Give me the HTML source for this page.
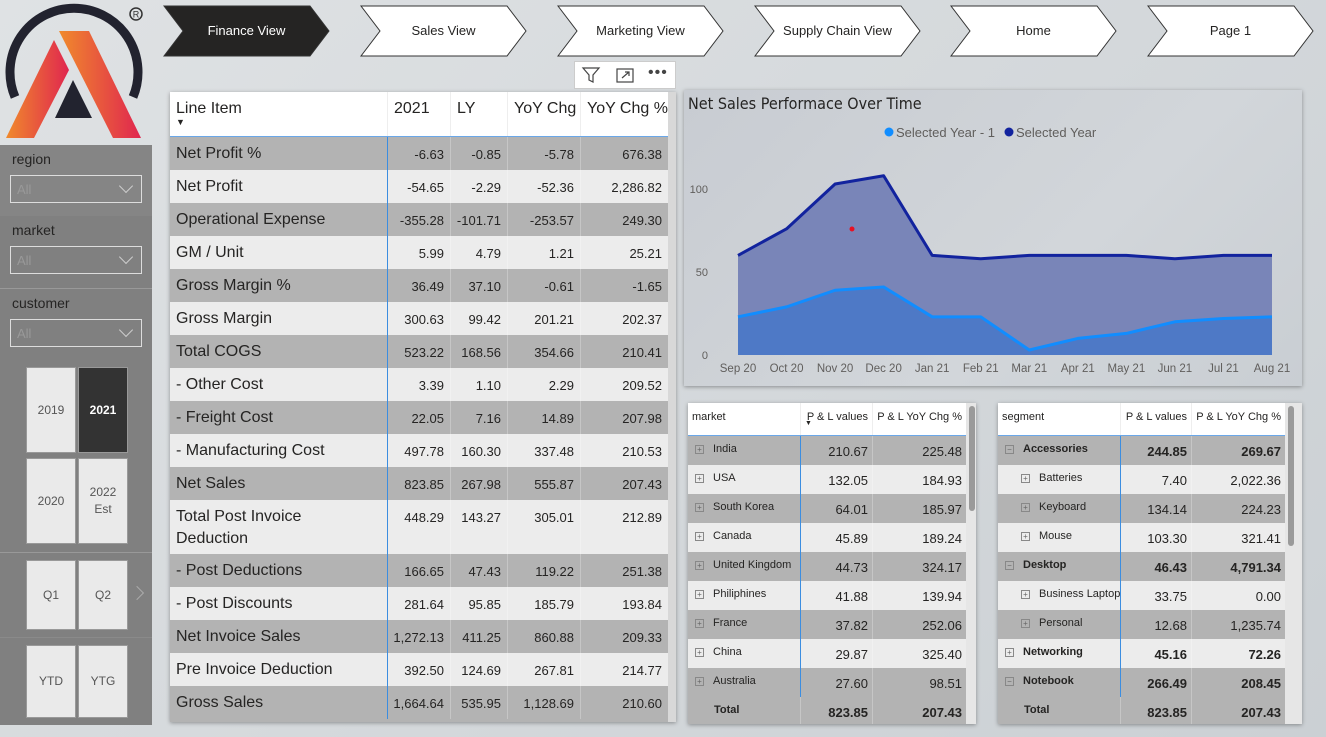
<!DOCTYPE html>
<html><head><meta charset="utf-8"><style>
*{box-sizing:border-box;margin:0;padding:0}
body{width:1326px;height:737px;overflow:hidden;font-family:"Liberation Sans",sans-serif;background:linear-gradient(135deg,#dfe2e4,#cbd0d4);position:relative;color:#252423}
.abs{position:absolute}
.nav{position:absolute;top:5px;height:52px;width:167px}
.nav svg{position:absolute;left:0;top:0}
.nav span{position:absolute;left:0;right:0;top:18px;text-align:center;font-size:13px}
.tbl{position:absolute;background:#fff;box-shadow:0 1px 4px rgba(0,0,0,.35)}
.row{position:absolute;left:0;display:flex}
.c{overflow:hidden;white-space:nowrap}
.slab{position:absolute;left:12px;font-size:14px;color:#252423}
.dd{position:absolute;left:10px;width:132px;height:28px;border:1px solid #ddd;font-size:13px;color:#999;padding:6px 6px}
.dd:after{content:"";position:absolute;right:10px;top:5px;width:9px;height:9px;border-right:1px solid #ccc;border-bottom:1px solid #ccc;transform:rotate(45deg)}
.btn{position:absolute;background:#eaeaea;border:1px solid #999;font-size:12px;color:#555;display:flex;align-items:center;justify-content:center;text-align:center;line-height:17px}
</style></head><body>
<!-- logo -->
<svg class="abs" style="left:0;top:0" width="150" height="142" viewBox="0 0 150 142">
<defs><linearGradient id="lg" x1="0" x2="1"><stop offset="0" stop-color="#f08a2c"/><stop offset="1" stop-color="#e0264f"/></linearGradient></defs>
<path d="M15 97 A64 64 0 1 1 133 97" fill="none" stroke="#22232f" stroke-width="9"/>
<polygon points="6,138 54,40 69,70 34,138" fill="url(#lg)"/>
<polygon points="59,31 89,31 141,138 113,138" fill="url(#lg)"/>
<polygon points="73,80 92,118 55,118" fill="#22232f"/>
<circle cx="136" cy="14" r="6" fill="none" stroke="#333" stroke-width="1.5"/><text x="136" y="17.5" font-size="9" text-anchor="middle" fill="#333" font-family="Liberation Sans">R</text>
</svg>
<!-- left panel -->
<div class="abs" style="left:0;top:145px;width:152px;height:580px;background:#808080">
<div class="abs" style="left:0;top:0;width:152px;height:71px;background:#858585"></div>
<div class="slab" style="top:6px">region</div>
<div class="dd" style="top:30px">All</div>
<div class="slab" style="top:77px">market</div>
<div class="dd" style="top:101px">All</div>
<div class="abs" style="left:0;top:143px;width:152px;height:1px;background:#999"></div>
<div class="slab" style="top:150px">customer</div>
<div class="dd" style="top:174px">All</div>
<div class="abs" style="left:0;top:407px;width:152px;height:1px;background:#999"></div>
<div class="abs" style="left:0;top:492px;width:152px;height:1px;background:#8a8a8a"></div>
</div>
<div class="btn" style="left:26px;top:367px;width:50px;height:86px">2019</div>
<div class="btn" style="left:78px;top:367px;width:50px;height:86px;background:#333;color:#fff;font-weight:bold">2021</div>
<div class="btn" style="left:26px;top:458px;width:50px;height:86px">2020</div>
<div class="btn" style="left:78px;top:458px;width:50px;height:86px">2022<br>Est</div>
<div class="btn" style="left:26px;top:560px;width:50px;height:70px">Q1</div>
<div class="btn" style="left:78px;top:560px;width:50px;height:70px">Q2</div>
<div class="abs" style="left:132px;top:588px;width:10px;height:10px;border-right:1px solid #aaa;border-top:1px solid #aaa;transform:rotate(45deg)"></div>
<div class="btn" style="left:26px;top:645px;width:50px;height:73px">YTD</div>
<div class="btn" style="left:78px;top:645px;width:50px;height:73px">YTG</div>

<!-- nav -->
<div id="nav"></div>

<!-- icons -->
<div class="abs" style="left:574px;top:61px;width:102px;height:28px;background:#fff;border:1px solid #ccc"></div>
<svg class="abs" style="left:580px;top:65px" width="22" height="20"><path d="M3 3 H19 L13 10 V17 L9 15 V10 Z" fill="none" stroke="#444" stroke-width="1.2"/></svg>
<svg class="abs" style="left:614px;top:65px" width="22" height="20"><rect x="3" y="4" width="16" height="13" fill="none" stroke="#444" stroke-width="1.2"/><path d="M8 13 L15 7 M11 7 H15 V11" fill="none" stroke="#444" stroke-width="1.2"/></svg>
<div class="abs" style="left:648px;top:64px;font-size:16px;letter-spacing:1px;color:#444">•••</div>

<!-- main table -->
<div class="tbl" style="left:170px;top:92px;width:506px;height:630px;background:#b3b3b3">
<div id="mt"></div>
</div>

<!-- chart -->
<div class="abs" style="left:684px;top:90px;width:618px;height:296px;background:linear-gradient(135deg,#c8ccd2,#d2d6da 60%,#c9ced3);box-shadow:0 1px 4px rgba(0,0,0,.35)">
<div class="abs" style="left:4px;top:4px;font-size:16px;color:#252423;font-family:'DejaVu Sans Condensed','Liberation Sans',sans-serif">Net Sales Performace Over Time</div>
</div>
<svg id="chart" class="abs" style="left:684px;top:90px" width="618" height="296"></svg>

<!-- market table -->
<div class="tbl" style="left:688px;top:403px;width:288px;height:321px;background:#b3b3b3"><div id="mk"></div></div>
<div class="tbl" style="left:998px;top:403px;width:304px;height:321px;background:#b3b3b3"><div id="sg"></div></div>

<script>
// ---------- nav ----------
const navItems=["Finance View","Sales View","Marketing View","Supply Chain View","Home","Page 1"];
const navX=[163,360,557,754,950,1147];
const nav=document.getElementById('nav');
navItems.forEach((t,i)=>{
 const d=document.createElement('div');d.className='nav';d.style.left=navX[i]+'px';
 
 
 const act=i===0;
 d.innerHTML=`<svg width="167" height="52"><polygon points="1,1 147,1 166,26 147,51 1,51 20,26" fill="${act?'#252423':'#fff'}" stroke="#333" stroke-width="1"/></svg><span style="color:${act?'#fff':'#252423'}">${t}</span>`;
 nav.appendChild(d);
});

// ---------- main table ----------
const mtCols=[217,63,57,73,88];
const mtHeader=["Line Item","2021","LY","YoY Chg","YoY Chg %"];
const mtRows=[
["Net Profit %","-6.63","-0.85","-5.78","676.38"],
["Net Profit","-54.65","-2.29","-52.36","2,286.82"],
["Operational Expense","-355.28","-101.71","-253.57","249.30"],
["GM / Unit","5.99","4.79","1.21","25.21"],
["Gross Margin %","36.49","37.10","-0.61","-1.65"],
["Gross Margin","300.63","99.42","201.21","202.37"],
["Total COGS","523.22","168.56","354.66","210.41"],
["- Other Cost","3.39","1.10","2.29","209.52"],
["- Freight Cost","22.05","7.16","14.89","207.98"],
["- Manufacturing Cost","497.78","160.30","337.48","210.53"],
["Net Sales","823.85","267.98","555.87","207.43"],
["Total Post Invoice<br>Deduction","448.29","143.27","305.01","212.89"],
["- Post Deductions","166.65","47.43","119.22","251.38"],
["- Post Discounts","281.64","95.85","185.79","193.84"],
["Net Invoice Sales","1,272.13","411.25","860.88","209.33"],
["Pre Invoice Deduction","392.50","124.69","267.81","214.77"],
["Gross Sales","1,664.64","535.95","1,128.69","210.60"]];
const mt=document.getElementById('mt');
let h='<div class="row" style="top:0;height:45px;width:498px;background:#fff;border-bottom:1px solid #6aa7e8">';
mtHeader.forEach((t,i)=>{h+=`<div class="c" style="width:${mtCols[i]}px;padding:8px 6px;font-size:16px;${i?'border-left:1px solid #eee;':''}">${t}${i==0?'<div style="font-size:9px;margin-top:-1px">▼</div>':''}</div>`});
h+='</div>';
let y=45;
mtRows.forEach((r,k)=>{
 const hh=k===11?54:33;
 const bg=k%2?'#ececec':'#b3b3b3';
 h+=`<div class="row" style="top:${y}px;height:${hh}px;width:498px;background:${bg}">`;
 r.forEach((t,i)=>{
  h+=`<div class="c" style="width:${mtCols[i]}px;${i?'text-align:right;font-size:13px;padding:10px 6px 0 0;':'font-size:16px;padding:6px 6px 0 6px;white-space:normal;line-height:22px;'}${i==1?'border-left:1px solid #3b8de0;':''}${i>1?'border-left:1px solid rgba(255,255,255,.25);':''}">${t}</div>`});
 h+='</div>';
 y+=hh;
});
h+='<div class="abs" style="left:498px;top:0;width:8px;height:630px;background:#d8d8d8"></div>';
mt.innerHTML=h;

// ---------- small tables ----------
function small(el,cols,hdr,rows,name,scrollH){
 let s=`<div class="row" style="top:0;height:33px;background:#fff;border-bottom:1px solid #6aa7e8">`;
 hdr.forEach((t,i)=>{s+=`<div class="c" style="width:${cols[i]}px;font-size:11px;padding:8px 4px;${i?'text-align:right;border-left:1px solid #eee;':''}">${t}${i==1&&name=='market'?'<div style="font-size:7px;text-align:left;margin-top:-3px">▼</div>':''}</div>`});
 s+='</div>';
 rows.forEach((r,k)=>{
  const tot=k===rows.length-1;
  const bg=tot?'#b3b3b3':(k%2?'#ececec':'#b3b3b3');
  s+=`<div class="row" style="top:${33+k*29}px;height:${tot?27:29}px;background:${bg}">`;
  r.forEach((t,i)=>{
   const bold=tot||r.bold;
   if(i===0){
    const ind=r.ind?16:0;
    s+=`<div class="c" style="width:${cols[0]}px;font-size:11px;padding:7px 0 0 ${7+ind}px;${bold?'font-weight:bold;':''}">${tot?'<span style="display:inline-block;width:19px"></span>':`<span style="display:inline-block;width:9px;height:9px;border:1px solid #888;font-size:8px;line-height:7px;text-align:center;color:#666;margin-right:9px;font-weight:normal">${r.open?'−':'+'}</span>`}${t}</div>`;
   } else s+=`<div class="c" style="width:${cols[i]}px;font-size:13px;text-align:right;padding:8px 4px 0 0;${bold?'font-weight:bold;':''}${i==1&&!tot?'border-left:1px solid #3b8de0;':'border-left:1px solid rgba(255,255,255,.25);'}">${t}</div>`;
  });
  s+='</div>';
 });
 const w=cols.reduce((a,b)=>a+b,0);
 s+=`<div class="abs" style="left:${w}px;top:0;width:${(name=='market'?288:304)-w}px;height:321px;background:#e6e6e6"></div><div class="abs" style="left:${w+3}px;top:3px;width:6px;height:${scrollH}px;border-radius:3px;background:#9a9a9a"></div>`;
 el.innerHTML=s;
}
const mkRows=[["India","210.67","225.48"],["USA","132.05","184.93"],["South Korea","64.01","185.97"],["Canada","45.89","189.24"],["United Kingdom","44.73","324.17"],["Philiphines","41.88","139.94"],["France","37.82","252.06"],["China","29.87","325.40"],["Australia","27.60","98.51"],["Total","823.85","207.43"]];
small(document.getElementById('mk'),[112,72,94],["market","P & L values","P & L YoY Chg %"],mkRows,'market',105);
const sgRows=[["Accessories","244.85","269.67"],["Batteries","7.40","2,022.36"],["Keyboard","134.14","224.23"],["Mouse","103.30","321.41"],["Desktop","46.43","4,791.34"],["Business Laptop","33.75","0.00"],["Personal","12.68","1,235.74"],["Networking","45.16","72.26"],["Notebook","266.49","208.45"],["Total","823.85","207.43"]];
[0,4,7,8].forEach(i=>sgRows[i].bold=true);[0,4,8].forEach(i=>sgRows[i].open=true);[1,2,3,5,6].forEach(i=>sgRows[i].ind=true);
small(document.getElementById('sg'),[122,71,94],["segment","P & L values","P & L YoY Chg %"],sgRows,'segment',140);

// ---------- chart ----------
const months=["Sep 20","Oct 20","Nov 20","Dec 20","Jan 21","Feb 21","Mar 21","Apr 21","May 21","Jun 21","Jul 21","Aug 21"];
const selectedYear=[60,76,103,108,60,58,60,60,60,58,60,60];
const prevYear=[23,29,39,41,23,23,3,10,13,20,22,23];
const yTicks=[0,50,100];
const svg=document.getElementById('chart');
const NS='http://www.w3.org/2000/svg';
const X=i=>54+i*(588-54)/(months.length-1);
const Y=v=>265-v*1.66;
function mk(tag,attrs,txt){const e=document.createElementNS(NS,tag);for(const k in attrs)e.setAttribute(k,attrs[k]);if(txt!==undefined)e.textContent=txt;svg.appendChild(e);return e;}
yTicks.forEach(t=>{const e=mk('text',{x:24,y:Y(t)+4,'text-anchor':'end','font-size':11,fill:'#605e5c','font-family':'Liberation Sans'},t);

});
months.forEach((m,i)=>{const e=mk('text',{x:X(i),y:282,'text-anchor':'middle','font-size':11.5,fill:'#605e5c','font-family':'Liberation Sans'},m);

});
const line=a=>a.map((v,i)=>X(i)+','+Y(v)).join(' ');
const area1=mk('polygon',{points:X(0)+','+Y(0)+' '+line(selectedYear)+' '+X(11)+','+Y(0),fill:'#7985b8'});


const area2=mk('polygon',{points:X(0)+','+Y(0)+' '+line(prevYear)+' '+X(11)+','+Y(0),fill:'#4e79c6'});


const l1=mk('polyline',{points:line(selectedYear),fill:'none',stroke:'#12239e','stroke-width':3,'stroke-linejoin':'round'});


const l2=mk('polyline',{points:line(prevYear),fill:'none',stroke:'#118dff','stroke-width':3,'stroke-linejoin':'round'});


mk('circle',{cx:168,cy:139,r:2.5,fill:'#e81123'});
const lg1=mk('circle',{cx:205,cy:42,r:4.5,fill:'#118dff'});


const lt1=mk('text',{x:212,y:47,'font-size':13,fill:'#605e5c','font-family':'Liberation Sans'},'Selected Year - 1');


const lg2=mk('circle',{cx:325,cy:42,r:4.5,fill:'#12239e'});


const lt2=mk('text',{x:332,y:47,'font-size':13,fill:'#605e5c','font-family':'Liberation Sans'},'Selected Year');


</script>
</body></html>
